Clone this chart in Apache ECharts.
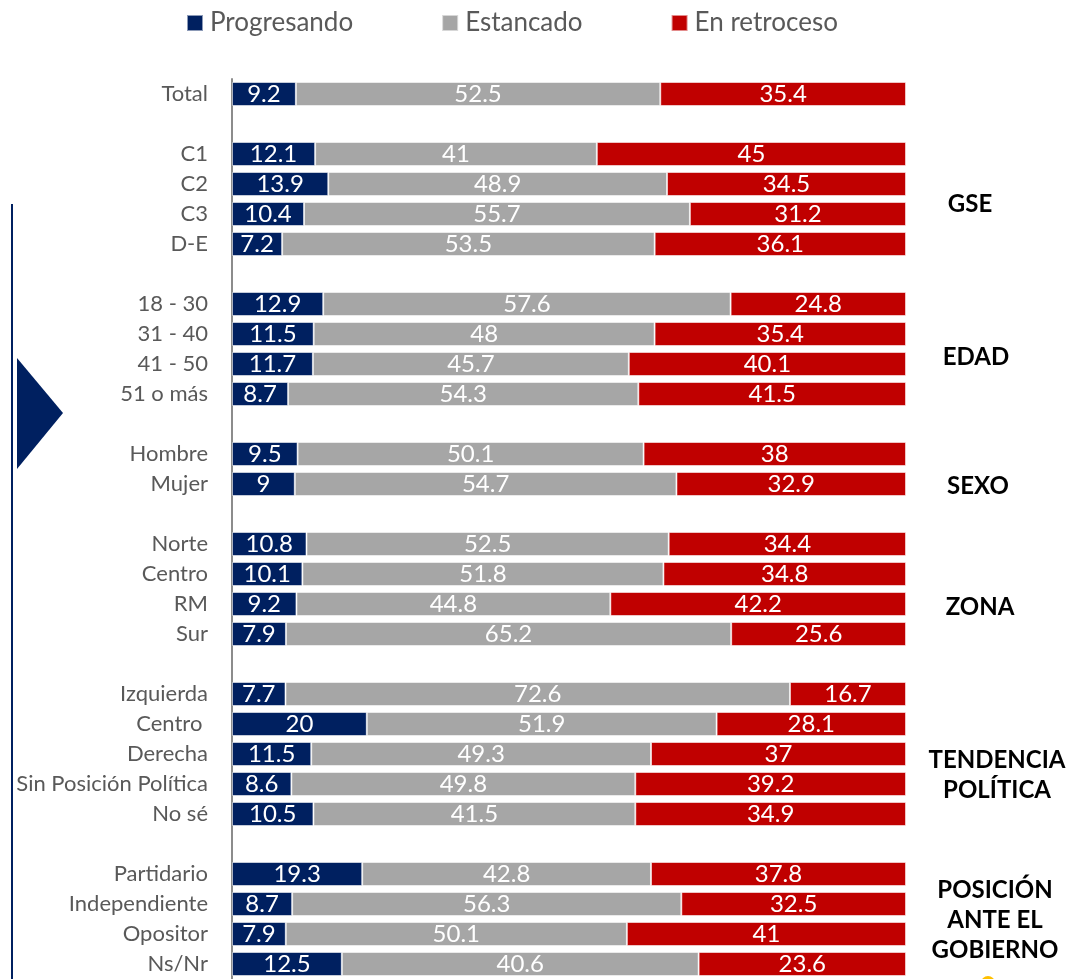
<!DOCTYPE html>
<html>
<head>
<meta charset="utf-8">
<script src="https://cdn.jsdelivr.net/npm/echarts@6/dist/echarts.min.js"></script>
<style>
  html, body { margin: 0; padding: 0; background: #fff; }
  #chart { width: 1069px; height: 979px; }
</style>
</head>
<body>
<div id="chart"></div>
<script>
const categories = ['Total', '', 'C1', 'C2', 'C3', 'D-E', '', '18 - 30', '31 - 40', '41 - 50', '51 o más', '',
  'Hombre', 'Mujer', '', 'Norte', 'Centro', 'RM', 'Sur', '',
  'Izquierda', 'Centro ', 'Derecha', 'Sin Posición Política', 'No sé', '',
  'Partidario', 'Independiente', 'Opositor', 'Ns/Nr'];
const progresando = [9.2, null, 12.1, 13.9, 10.4, 7.2, null, 12.9, 11.5, 11.7, 8.7, null,
  9.5, 9, null, 10.8, 10.1, 9.2, 7.9, null,
  7.7, 20, 11.5, 8.6, 10.5, null,
  19.3, 8.7, 7.9, 12.5];
const estancado = [52.5, null, 41, 48.9, 55.7, 53.5, null, 57.6, 48, 45.7, 54.3, null,
  50.1, 54.7, null, 52.5, 51.8, 44.8, 65.2, null,
  72.6, 51.9, 49.3, 49.8, 41.5, null,
  42.8, 56.3, 50.1, 40.6];
const retroceso = [35.4, null, 45, 34.5, 31.2, 36.1, null, 24.8, 35.4, 40.1, 41.5, null,
  38, 32.9, null, 34.4, 34.8, 42.2, 25.6, null,
  16.7, 28.1, 37, 39.2, 34.9, null,
  37.8, 32.5, 41, 23.6];
const seriesNames = ['Progresando', 'Estancado', 'En retroceso'];
const groupLabels = [
  { text: 'GSE', x: 970, y: 204 },
  { text: 'EDAD', x: 976, y: 357 },
  { text: 'SEXO', x: 978, y: 486 },
  { text: 'ZONA', x: 980, y: 607 },
  { text: 'TENDENCIA\nPOLÍTICA', x: 997, y: 775 },
  { text: 'POSICIÓN\nANTE EL\nGOBIERNO', x: 995, y: 920 }
];

const colors = ['#002060', '#A6A6A6', '#C00000'];
const raw = [progresando, estancado, retroceso];
// 100% stacked: share of each row total
const totals = categories.map((c, i) => {
  if (progresando[i] == null) return null;
  return progresando[i] + estancado[i] + retroceso[i];
});

const series = raw.map((arr, s) => ({
  name: seriesNames[s],
  type: 'bar',
  stack: 'all',
  barWidth: 24,
  itemStyle: { color: colors[s], borderColor: 'rgba(255,255,255,0.55)', borderWidth: 1 },
  label: {
    show: true,
    position: 'inside',
    color: '#ffffff',
    fontFamily: 'Lato',
    fontSize: 24,
    formatter: p => raw[s][p.dataIndex] == null ? '' : String(raw[s][p.dataIndex])
  },
  data: arr.map((v, i) => v == null ? null : v / totals[i])
}));

const chart = echarts.init(document.getElementById('chart'), null, { renderer: 'canvas' });
chart.setOption({
  animation: false,
  legend: {
    data: seriesNames,
    left: 181,
    top: 5,
    icon: 'rect',
    itemWidth: 16,
    itemHeight: 16,
    itemGap: 88,
    textStyle: { color: '#595959', fontFamily: 'Lato', fontSize: 26, padding: [0, 0, 0, 2] }
  },
  grid: { left: 232, right: 163, top: 79, bottom: 0, containLabel: false },
  xAxis: { type: 'value', min: 0, max: 1, show: false },
  yAxis: {
    type: 'category',
    inverse: true,
    data: categories,
    axisLine: { show: true, lineStyle: { color: '#8c8c8c', width: 2 } },
    axisTick: { show: false },
    splitLine: { show: false },
    axisLabel: { color: '#595959', fontFamily: 'Lato', fontSize: 22, margin: 24, interval: 0 }
  },
  series: series,
  graphic: [
    { type: 'line', shape: { x1: 12, y1: 204, x2: 12, y2: 979 }, style: { stroke: '#002060', lineWidth: 2 } },
    { type: 'polygon', shape: { points: [[17, 358], [63, 413], [17, 469]] }, style: { fill: '#002060' } },
    { type: 'circle', shape: { cx: 988, cy: 983, r: 7 }, style: { fill: '#FFC000' } }
  ].concat(groupLabels.map(g => ({
    type: 'text',
    x: g.x, y: g.y,
    style: {
      text: g.text, fill: '#000000', fontFamily: 'Lato', fontWeight: 'bold', fontSize: 24,
      lineHeight: 30, align: 'center', verticalAlign: 'middle'
    }
  })))
});
</script>
</body>
</html>
